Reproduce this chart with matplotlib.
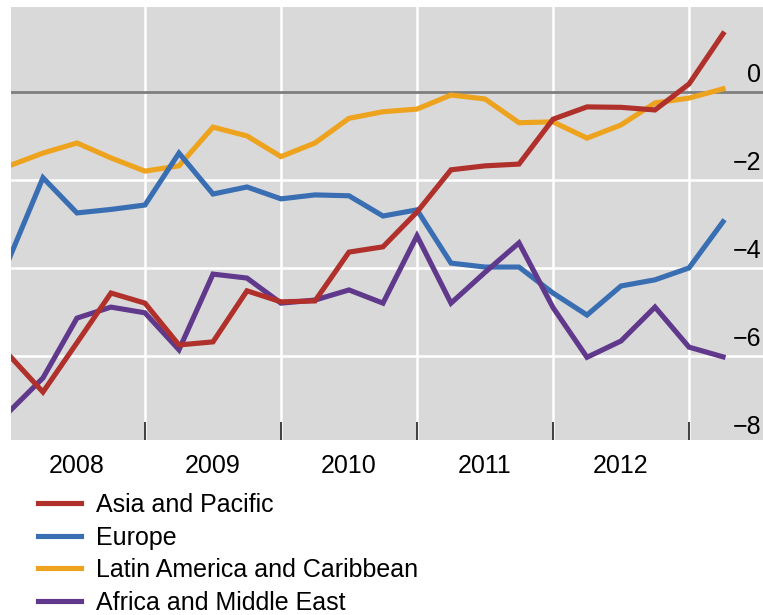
import matplotlib.pyplot as plt
from matplotlib.transforms import blended_transform_factory

plt.rcParams['font.family'] = ['Liberation Sans', 'DejaVu Sans']

# quarterly observations, Q4 2007 .. Q1 2013
quarters = [2008 + 0.25 * i for i in range(22)]

asia_pacific = [-5.98, -6.82, -5.70, -4.57, -4.80, -5.75, -5.68, -4.52, -4.77, -4.75, -3.64,
                -3.52, -2.73, -1.77, -1.68, -1.64, -0.62, -0.34, -0.35, -0.41, 0.18, 1.32]
europe = [-3.80, -1.95, -2.75, -2.67, -2.57, -1.39, -2.32, -2.16, -2.43, -2.34, -2.36,
          -2.82, -2.68, -3.89, -3.98, -3.98, -4.57, -5.07, -4.41, -4.27, -4.00, -2.95]
latin_america = [-1.68, -1.39, -1.16, -1.50, -1.80, -1.68, -0.80, -1.00, -1.47, -1.16, -0.60,
                 -0.45, -0.39, -0.07, -0.16, -0.70, -0.68, -1.05, -0.75, -0.25, -0.14, 0.07]
africa_me = [-7.27, -6.50, -5.14, -4.89, -5.02, -5.86, -4.14, -4.23, -4.80, -4.73, -4.50,
             -4.80, -3.27, -4.80, -4.10, -3.43, -4.90, -6.03, -5.66, -4.89, -5.80, -6.02]

series_names = ['Asia and Pacific', 'Europe', 'Latin America and Caribbean', 'Africa and Middle East']
series_colors = ['#b0302b', '#3a6eb2', '#eea31f', '#60388c']

year_labels = ['2008', '2009', '2010', '2011', '2012']
year_bounds = [2009, 2010, 2011, 2012, 2013]
yticks = [0, -2, -4, -6, -8]

fig = plt.figure(figsize=(7.63, 6.15), dpi=100)
ax = fig.add_axes([11 / 763, 1 - 440 / 615, 752 / 763, 433 / 615])
ax.set_facecolor('#d9d9d9')

# grid
for v in [-2, -4, -6]:
    ax.axhline(v, color='white', lw=1.8, zorder=1)
for b in year_bounds:
    ax.axvline(b, color='white', lw=1.8, zorder=1)
ax.axhline(0, color='#7f7f7f', lw=2.0, zorder=2)

all_series = [asia_pacific, europe, latin_america, africa_me]
# draw order: orange and blue under red/purple
for idx in [2, 1, 3, 0]:
    ax.plot(quarters, all_series[idx], color=series_colors[idx], lw=3.7,
            label=series_names[idx], zorder=3, solid_joinstyle='miter')

ax.set_xlim(2008.015, 2013.544)
ax.set_ylim(-7.91, 1.93)

for s in ax.spines.values():
    s.set_visible(False)

# x ticks: marks at year boundaries, labels mid-year
ax.set_xticks(year_bounds)
ax.set_xticklabels([])
ax.tick_params(axis='x', which='major', direction='in', length=13, width=1.4, color='#404040')
ax.set_xticks([y + 0.5 for y in range(2008, 2013)], minor=True)
ax.set_xticklabels(year_labels, minor=True, fontsize=18)
ax.tick_params(axis='x', which='minor', length=0, pad=10)
ax.set_yticks([])

# y labels inside the right edge, just above their gridlines
trans = blended_transform_factory(ax.transAxes, ax.transData)
for v in yticks:
    lab = str(v).replace('-', '\u2212')
    ax.text(0.998, v + 0.38, lab, transform=trans, ha='right', va='center', fontsize=18)

handles, labels = ax.get_legend_handles_labels()
order = [labels.index(n) for n in series_names]
fig.legend([handles[i] for i in order], [labels[i] for i in order],
           loc='upper left', bbox_to_anchor=(33 / 763, 1 - 488 / 615), frameon=False,
           fontsize=18, handlelength=1.72, handletextpad=0.6, labelspacing=0.34,
           borderaxespad=0, borderpad=0.2)

fig.savefig('out.png', dpi=100)
